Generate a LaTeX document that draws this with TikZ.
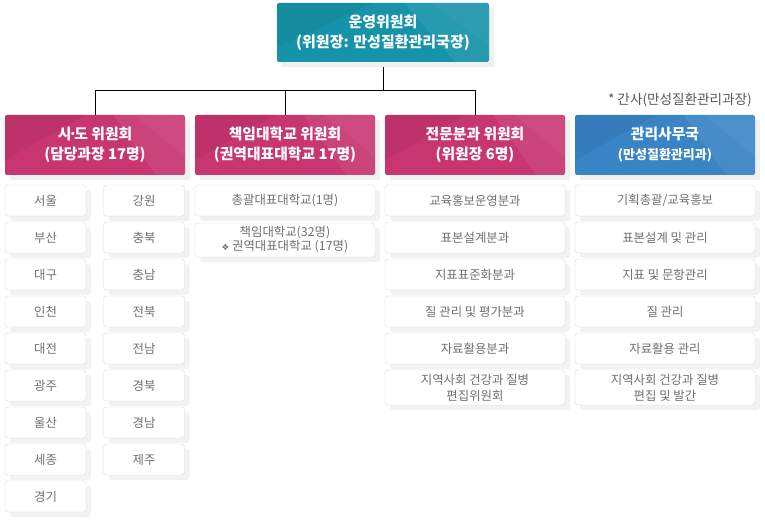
\documentclass[tikz,border=0pt]{standalone}
\usepackage{fontspec}
\setmainfont{Noto Sans CJK KR}
\newfontfamily\symfont{DejaVu Sans}
\usepackage{tikz}
\usetikzlibrary{shadows,calc,backgrounds}
\definecolor{topcol}{HTML}{1693A8}
\definecolor{rosecol}{HTML}{C8366F}
\definecolor{bluecol}{HTML}{3884C5}
\definecolor{linecol}{HTML}{1E90B0}
\definecolor{boxline}{HTML}{DADADA}
\definecolor{boxtext}{HTML}{707070}

\begin{document}
\begin{tikzpicture}[x=1pt,y=-1pt,
    facets/.style={path picture={
      \path (path picture bounding box.north west) coordinate (pa)
            (path picture bounding box.north east) coordinate (pc)
            (path picture bounding box.south east) coordinate (pb)
            (path picture bounding box.south west) coordinate (pd);
      \fill[white,opacity=.07] ($(pa)!.6!(pc)$) -- (pc) -- (pb) -- ($(pd)!.84!(pb)$) -- cycle;
      \fill[white,opacity=.04] ($(pa)!.72!(pc)$) -- (pc) -- ($(pc)!.7!(pb)$) -- cycle;
      \fill[black,opacity=.05] (pa) -- ($(pa)!.45!(pc)$) -- ($(pa)!.75!(pd)$) -- cycle;
    }},
    head/.style={rectangle,rounded corners=2pt,minimum width=180pt,minimum height=60pt,
      inner sep=0pt,text=white,align=center,font=\fontsize{14.8}{20}\selectfont\bfseries,
      facets,drop shadow={shadow xshift=5pt,shadow yshift=-5pt,fill=black!6,opacity=1}},
    item/.style={rectangle,draw=boxline,fill=white,rounded corners=3pt,minimum height=31pt,
      inner sep=0pt,text=boxtext,align=center,font=\fontsize{12.4}{15}\selectfont,
      drop shadow={shadow xshift=5pt,shadow yshift=-5pt,fill=black!5,opacity=1}}]
  \useasboundingbox (0,0) rectangle (765,521);

  % top
  \node[head,fill=topcol,minimum width=212pt,minimum height=59pt,font=\fontsize{15}{20}\selectfont\bfseries]
    (top) at (383,32.5) {운영위원회\\(위원장: 만성질환관리국장)};

  % committees
  \node[head,fill=rosecol] (sido) at (95,145) {시\kern-3pt·\kern-3pt도 위원회\\(담당과장 17명)};
  \node[head,fill=rosecol] (univ) at (285,145) {책임대학교 위원회\\(권역대표대학교 17명)};
  \node[head,fill=rosecol] (expert) at (475,145) {전문분과 위원회\\(위원장 6명)};
  \node[head,fill=bluecol] (office) at (665,145)
    {관리사무국\\{\fontsize{13}{18}\selectfont(만성질환관리과)}};
  \node[anchor=east,inner sep=0pt,text=black!65,font=\fontsize{13.6}{15}\selectfont]
    (note) at (752,100) {* 간사(만성질환관리과장)};

  % regions
  \begin{scope}[every node/.style={item,minimum width=81pt}]
    \node (seoul) at (45.5,200.5) {서울};
    \node (busan) at (45.5,237.5) {부산};
    \node (daegu) at (45.5,274.5) {대구};
    \node (incheon) at (45.5,311.5) {인천};
    \node (daejeon) at (45.5,348.5) {대전};
    \node (gwangju) at (45.5,385.5) {광주};
    \node (ulsan) at (45.5,422.5) {울산};
    \node (sejong) at (45.5,459.5) {세종};
    \node (gyeonggi) at (45.5,496.5) {경기};
    \node (gangwon) at (144,200.5) {강원};
    \node (chungbuk) at (144,237.5) {충북};
    \node (chungnam) at (144,274.5) {충남};
    \node (jeonbuk) at (144,311.5) {전북};
    \node (jeonnam) at (144,348.5) {전남};
    \node (gyeongbuk) at (144,385.5) {경북};
    \node (gyeongnam) at (144,422.5) {경남};
    \node (jeju) at (144,459.5) {제주};
  \end{scope}

  % universities, divisions, office tasks
  \begin{scope}[every node/.style={item,minimum width=180pt}]
    \node (univa) at (285,200.5) {총괄대표대학교(1명)};
    \node[minimum height=34pt,font=\fontsize{12.4}{14}\selectfont] (univb) at (285,240)
      {책임대학교(32명)\\{\symfont\fontsize{8.5}{10}\selectfont ❖} 권역대표대학교 (17명)};
    \node (diva) at (475,200.5) {교육홍보운영분과};
    \node (divb) at (475,237.5) {표본설계분과};
    \node (divc) at (475,274.5) {지표표준화분과};
    \node (divd) at (475,311.5) {질 관리 및 평가분과};
    \node (dive) at (475,348.5) {자료활용분과};
    \node[minimum height=35pt,font=\fontsize{12.4}{16}\selectfont] (divf) at (475,387.5)
      {지역사회 건강과 질병\\편집위원회};
    \node (taska) at (665,200.5) {기획총괄/교육홍보};
    \node (taskb) at (665,237.5) {표본설계 및 관리};
    \node (taskc) at (665,274.5) {지표 및 문항관리};
    \node (taskd) at (665,311.5) {질 관리};
    \node (taske) at (665,348.5) {자료활용 관리};
    \node[minimum height=35pt,font=\fontsize{12.4}{16}\selectfont] (taskf) at (665,387.5)
      {지역사회 건강과 질병\\편집 및 발간};
  \end{scope}

  % connectors
  \begin{scope}[on background layer,draw=linecol,line width=1pt]
    \coordinate (bus) at (383,90.5);
    \draw (top.south) -- (bus);
    \draw (sido.north) |- (bus) -| (expert.north);
    \draw (univ.north) -- (univ.north |- bus);
  \end{scope}
\end{tikzpicture}
\end{document}
